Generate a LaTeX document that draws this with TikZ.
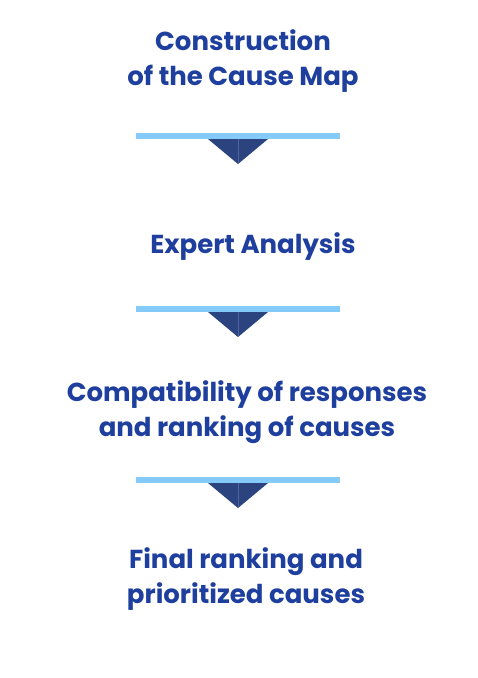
\documentclass[tikz,border=0pt]{standalone}
\usepackage{fontspec}
\setmainfont{Poppins}
\definecolor{ktext}{HTML}{1e3f9e}
\definecolor{kbar}{HTML}{84cbf9}
\definecolor{knavy}{HTML}{2b4480}
\definecolor{kmid}{HTML}{4d66a3}

\begin{document}
\begin{tikzpicture}[x=1pt,y=-1pt,
  step label/.style={ktext,font=\fontsize{26}{34.5}\selectfont\bfseries,align=center,inner sep=0pt}]
  \useasboundingbox (0,0) rectangle (478,678);
  \fill[white] (0,0) rectangle (478,678);

  % Step labels
  \node[step label] (construction) at (243,61) {Construction\\of the Cause Map};
  \node[step label] (expert) at (253,247) {Expert Analysis};
  \node[step label] (compat) at (247,412) {Compatibility of responses\\and ranking of causes};
  \node[step label] (final) at (246,579) {Final ranking and\\prioritized causes};

  % Separators: light bar with a dark pointer below
  \foreach \y in {133,306,477} {
    \fill[kbar] (136,\y) rectangle (340,\y+6);
    \fill[knavy] (208,\y+6) -- (268,\y+6) -- (238,\y+31) -- cycle;
    \draw[kmid,line width=0.4pt] (238,\y+6) -- (238,\y+30);
  }
\end{tikzpicture}
\end{document}
